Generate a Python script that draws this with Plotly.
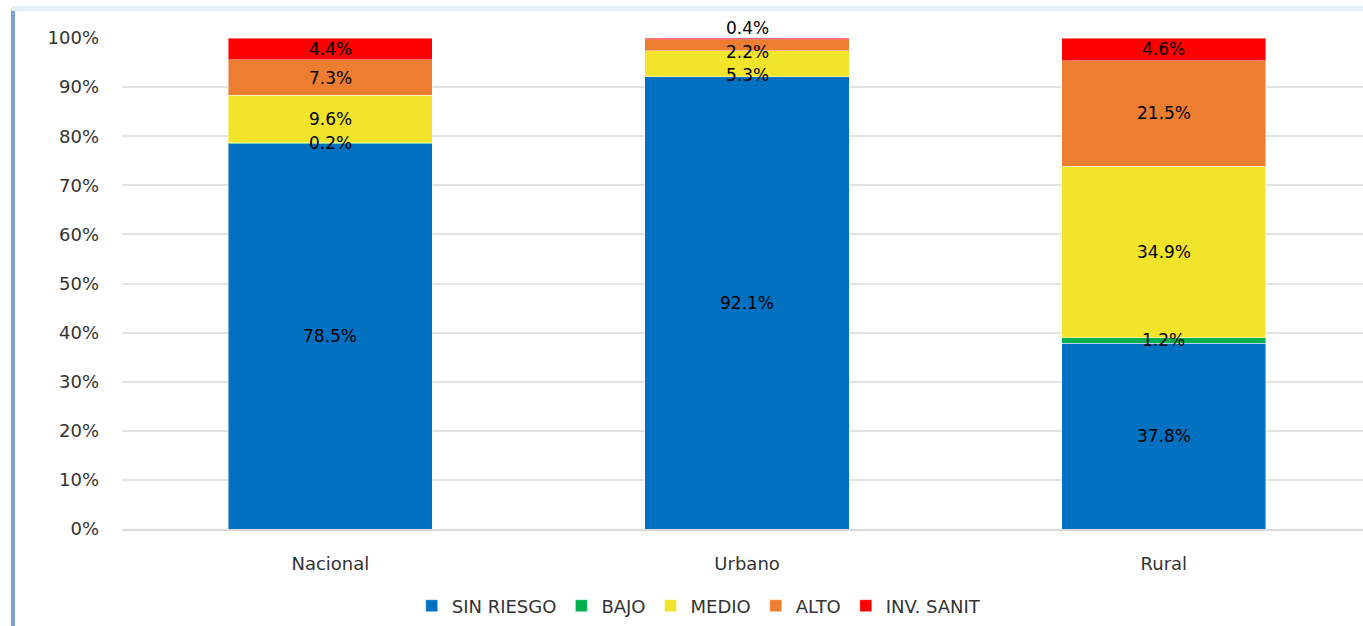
import plotly.graph_objects as go

categories = ["Nacional", "Urbano", "Rural"]
series_names = ["SIN RIESGO", "BAJO", "MEDIO", "ALTO", "INV. SANIT"]
sin_riesgo = [78.5, 92.1, 37.8]
bajo = [0.2, 0.0, 1.2]
medio = [9.6, 5.3, 34.9]
alto = [7.3, 2.2, 21.5]
inv_sanit = [4.4, 0.4, 4.6]
y_ticks = [0, 10, 20, 30, 40, 50, 60, 70, 80, 90, 100]
y_tick_labels = [f"{v}%" for v in y_ticks]

values = [sin_riesgo, bajo, medio, alto, inv_sanit]
colors = ["#0070C0", "#00B050", "#F2E42A", "#ED7D31", "#FF0000"]

W, H = 1363, 626
L, R, T, B = 122, 0, 38, 97

FONT = "DejaVu Sans"
FS = 17
FS_AX = 18

fig = go.Figure()
for name, vals, col in zip(series_names, values, colors):
    fig.add_trace(go.Bar(
        x=categories, y=vals, name=name,
        marker=dict(color=col, line=dict(color="rgba(255,255,255,0.45)", width=1)),
        width=0.49,
    ))

# data labels centred in each segment (Excel-style)
label_shift = {("Urbano", "INV. SANIT"): 11, ("Urbano", "ALTO"): -7, ("Urbano", "MEDIO"): -11}
for ci, cat in enumerate(categories):
    base = 0.0
    for si, name in enumerate(series_names):
        v = values[si][ci]
        if v > 0:
            fig.add_annotation(
                x=cat, y=base + v / 2, xref="x", yref="y",
                text=f"{v:.1f}%", showarrow=False,
                font=dict(family=FONT, size=FS, color="#000000"),
                yshift=label_shift.get((cat, name), 0),
            )
        base += v

# frame decorations (left border line & top band of the cropped chart box)
def px_x(p):
    return (p - L) / (W - L - R)

def px_y(p):
    return (H - B - p) / (H - T - B)

fig.add_shape(type="line", xref="paper", yref="paper",
              x0=px_x(13), x1=px_x(13), y0=px_y(10), y1=px_y(626),
              line=dict(color="#7FA3D0", width=4))
fig.add_shape(type="rect", xref="paper", yref="paper",
              x0=px_x(12), x1=px_x(1363), y0=px_y(11), y1=px_y(6),
              line=dict(width=0), fillcolor="#E6EDF5")

fig.update_layout(
    barmode="stack",
    width=W, height=H,
    margin=dict(l=L, r=R, t=T, b=B, autoexpand=False),
    paper_bgcolor="white", plot_bgcolor="white",
    bargap=0.51,
    font=dict(family=FONT, size=FS, color="#404040"),
    xaxis=dict(
        range=[-0.5, 2.478],
        showline=True, linecolor="#D9D9D9", linewidth=2,
        ticks="", tickfont=dict(family=FONT, size=FS_AX, color="#333333"),
        ticklabelstandoff=17,
    ),
    yaxis=dict(
        range=[0, 100],
        tickvals=y_ticks, ticktext=y_tick_labels,
        showgrid=True, gridcolor="#E3E3E3", gridwidth=2,
        zeroline=False, ticks="",
        tickfont=dict(family=FONT, size=FS_AX, color="#333333"),
        ticklabelstandoff=22,
    ),
    legend=dict(
        orientation="h", xref="container", yref="container",
        x=0.513, y=0.032, xanchor="center", yanchor="middle",
        font=dict(family=FONT, size=FS_AX, color="#333333"),
        itemwidth=30, tracegroupgap=0, traceorder="normal",
    ),
    showlegend=True,
)

fig.write_html("out.html", config={"displayModeBar": False},
               post_script="document.body.style.margin='0';document.body.style.overflow='hidden';")
